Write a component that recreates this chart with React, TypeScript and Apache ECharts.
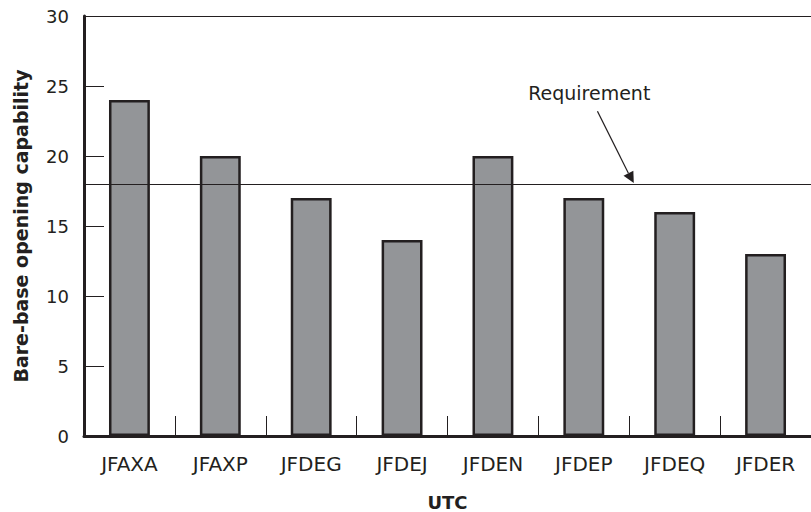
import React, { useEffect, useRef } from "react";
import * as echarts from "echarts";

const categories = ["JFAXA", "JFAXP", "JFDEG", "JFDEJ", "JFDEN", "JFDEP", "JFDEQ", "JFDER"];
const values = [24, 20, 17, 14, 20, 17, 16, 13];
const requirement = 18;
const yTicks = { min: 0, max: 30, interval: 5 };
const annotationText = "Requirement";
// annotation anchors in data space: [fractional category index, value]
const annoLabelAt = [5.06, 24.5];
const annoTailAt = [5.15, 23.2];
const annoHeadAt = [5.55, requirement];

const FONT = "'DejaVu Sans', 'Open Sans', sans-serif";
const INK = "#231f20";

export default function App() {
  const ref = useRef<HTMLDivElement>(null);
  useEffect(() => {
    if (!ref.current) return;
    const chart = echarts.init(ref.current, null, { renderer: "svg" });
    chart.setOption({
      animation: false,
      backgroundColor: "#ffffff",
      textStyle: { fontFamily: FONT },
      grid: { left: 84, right: 0, top: 16, bottom: 76, containLabel: false, outerBoundsMode: "none" },
      xAxis: [
        {
          type: "category",
          data: categories,
          boundaryGap: true,
          name: "UTC",
          nameLocation: "middle",
          nameGap: 57,
          nameTextStyle: { fontFamily: FONT, fontSize: 18, fontWeight: "bold", color: INK },
          axisLine: { show: true, lineStyle: { color: INK, width: 3 } },
          axisTick: { show: true, inside: true, length: 20, lineStyle: { color: INK, width: 1 } },
          axisLabel: { fontFamily: FONT, fontSize: 20, color: INK, margin: 18 },
          splitLine: { show: false },
        },
        {
          type: "category",
          data: categories,
          position: "top",
          axisLine: { show: true, lineStyle: { color: INK, width: 1 } },
          axisTick: { show: false },
          axisLabel: { show: false },
        },
      ],
      yAxis: {
        type: "value",
        min: yTicks.min,
        max: yTicks.max,
        interval: yTicks.interval,
        name: "Bare-base opening capability",
        nameLocation: "middle",
        nameGap: 54,
        nameTextStyle: { fontFamily: FONT, fontSize: 19, fontWeight: "bold", color: INK },
        axisLine: { show: true, lineStyle: { color: INK, width: 3 } },
        axisTick: { show: true, inside: true, length: 20, lineStyle: { color: INK, width: 1 } },
        axisLabel: { fontFamily: FONT, fontSize: 18, color: INK, margin: 15 },
        splitLine: { show: false },
      },
      series: [
        {
          type: "bar",
          data: values,
          barWidth: "45%",
          itemStyle: { color: "#939598", borderColor: INK, borderWidth: 2.5 },
          markLine: {
            silent: true,
            symbol: ["none", "none"],
            label: { show: false },
            lineStyle: { color: INK, width: 1, type: "solid" },
            data: [{ yAxis: requirement }],
          },
          z: 2,
        },
      ],
    });

    const toPx = (pt: number[]) => {
      const i0 = Math.floor(pt[0]);
      const f = pt[0] - i0;
      const a = chart.convertToPixel({ xAxisIndex: 0, yAxisIndex: 0 }, [i0, pt[1]]) as number[];
      const b = chart.convertToPixel({ xAxisIndex: 0, yAxisIndex: 0 }, [i0 + 1, pt[1]]) as number[];
      return [a[0] + (b[0] - a[0]) * f, a[1]];
    };
    const lab = toPx(annoLabelAt);
    const tail = toPx(annoTailAt);
    const head = toPx(annoHeadAt);
    const dx = head[0] - tail[0];
    const dy = head[1] - tail[1];
    const len = Math.sqrt(dx * dx + dy * dy);
    const ux = dx / len;
    const uy = dy / len;
    const hl = 12;
    const hw = 5.5;
    const bx = head[0] - ux * hl;
    const by = head[1] - uy * hl;
    chart.setOption({
      graphic: [
        {
          type: "text",
          x: lab[0],
          y: lab[1],
          style: {
            text: annotationText,
            fontFamily: FONT,
            fontSize: 19,
            fill: INK,
            textAlign: "center",
            textVerticalAlign: "middle",
          },
        },
        {
          type: "line",
          shape: { x1: tail[0], y1: tail[1], x2: bx, y2: by },
          style: { stroke: INK, lineWidth: 1.2 },
        },
        {
          type: "polygon",
          shape: {
            points: [
              [head[0], head[1] - 1],
              [bx - uy * hw, by + ux * hw],
              [bx + uy * hw, by - ux * hw],
            ],
          },
          style: { fill: INK },
        },
      ],
    });
    return () => chart.dispose();
  }, []);
  return <div ref={ref} style={{ width: 811, height: 512, position: "absolute", left: 0, top: 0 }} />;
}
